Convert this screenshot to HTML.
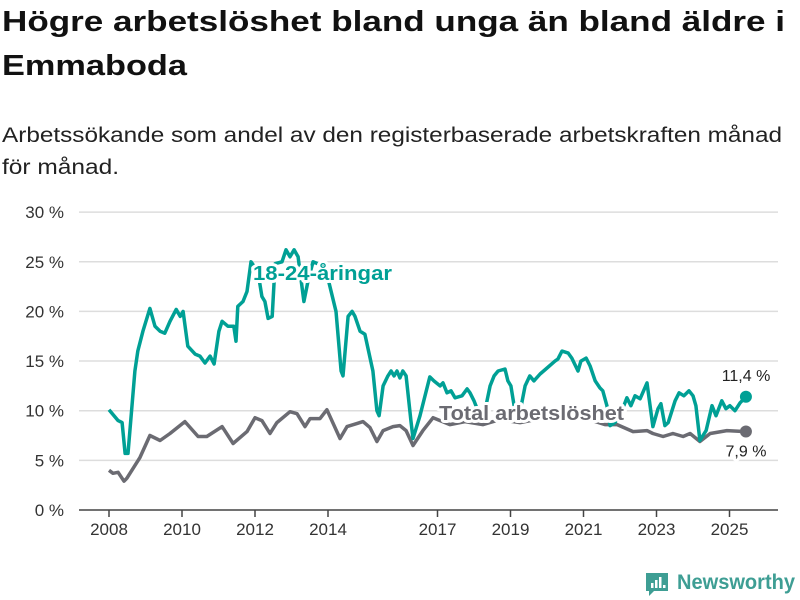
<!DOCTYPE html>
<html><head><meta charset="utf-8"><style>
html,body{margin:0;padding:0;background:#fff;}
svg{display:block;font-family:"Liberation Sans",sans-serif;}
.halo{paint-order:stroke;stroke:#fff;stroke-width:6px;stroke-linejoin:round;}
</style></head><body>
<svg id="chart" width="800" height="600" viewBox="0 0 800 600">
<text x="2" y="31" font-size="29" font-weight="bold" fill="#111" textLength="783" lengthAdjust="spacingAndGlyphs">Högre arbetslöshet bland unga än bland äldre i</text>
<text x="2" y="75" font-size="29" font-weight="bold" fill="#111" textLength="185" lengthAdjust="spacingAndGlyphs">Emmaboda</text>
<text x="2" y="142" font-size="21" fill="#222" textLength="780" lengthAdjust="spacingAndGlyphs">Arbetssökande som andel av den registerbaserade arbetskraften månad</text>
<text x="2" y="174" font-size="21" fill="#222" textLength="117" lengthAdjust="spacingAndGlyphs">för månad.</text>
<g id="grid"></g>
<g id="xaxis"></g>
<g id="series"></g>
<g id="labels"></g>
<g>
<path d="M646 573 h22 v18 h-14 l-5 5 v-5 h-3 z" fill="#3e9e94"/>
<rect x="651" y="583" width="2.5" height="5" fill="#fff"/>
<rect x="655" y="580" width="2.5" height="8" fill="#fff"/>
<rect x="659" y="577" width="2.5" height="11" fill="#fff"/>
<rect x="663" y="585" width="2.5" height="3" fill="#fff"/>
<text x="677" y="589" font-size="21" font-weight="bold" fill="#3e9e94" textLength="118" lengthAdjust="spacingAndGlyphs">Newsworthy</text>
</g>
</svg>
<script>
const yTicks = [0,5,10,15,20,25,30];
const yTickLabels = ["0 %","5 %","10 %","15 %","20 %","25 %","30 %"];
const xTicks = [2008,2010,2012,2014,2017,2019,2021,2023,2025];
const youthDates = [2008.00,2008.25,2008.36,2008.44,2008.52,2008.71,2008.79,2008.93,2009.12,2009.26,2009.40,2009.53,2009.67,2009.84,2009.95,2010.03,2010.16,2010.36,2010.49,2010.63,2010.77,2010.88,2011.01,2011.10,2011.26,2011.42,2011.48,2011.53,2011.67,2011.78,2011.89,2012.08,2012.19,2012.27,2012.36,2012.47,2012.55,2012.74,2012.85,2012.96,2013.07,2013.18,2013.34,2013.45,2013.59,2013.92,2014.22,2014.36,2014.41,2014.55,2014.66,2014.74,2014.88,2015.01,2015.23,2015.34,2015.40,2015.51,2015.64,2015.73,2015.81,2015.89,2015.97,2016.05,2016.14,2016.27,2016.33,2016.52,2016.79,2016.90,2017.07,2017.15,2017.26,2017.37,2017.48,2017.67,2017.81,2017.89,2018.00,2018.16,2018.33,2018.44,2018.55,2018.66,2018.85,2018.93,2019.01,2019.12,2019.21,2019.32,2019.40,2019.53,2019.64,2019.81,2019.97,2020.22,2020.30,2020.41,2020.58,2020.68,2020.85,2020.93,2021.07,2021.18,2021.32,2021.45,2021.53,2021.64,2021.73,2021.86,2022.00,2022.19,2022.30,2022.41,2022.55,2022.74,2022.90,2023.04,2023.12,2023.23,2023.32,2023.51,2023.62,2023.75,2023.89,2024.00,2024.08,2024.19,2024.36,2024.52,2024.63,2024.79,2024.90,2025.01,2025.15,2025.29,2025.45];
const youthValues = [10.1,9.0,8.8,5.7,5.7,14,16,18,20.3,18.5,18,17.8,19,20.2,19.5,20,16.5,15.7,15.5,14.8,15.5,14.7,18,19,18.5,18.5,17,20.5,21,22,25,24,21.5,21,19.3,19.5,24.8,25,26.2,25.5,26.2,25.5,21,23,25,24.5,20,14,13.5,19.5,20,19.5,18,17.7,14,10,9.5,12.5,13.5,14,13.5,14,13.3,14,13.5,9,7.2,9.5,13.4,13,12.5,12.8,11.8,12,11.3,11.5,12.2,11.8,11,9.5,10.5,12.5,13.5,14,14.2,13,12.5,10,9,11,12.5,13.5,13,13.7,14.2,15,15.2,16,15.8,15.3,14,15,15.3,14.5,13,12.3,12,10.5,8.5,8.8,9.5,11.3,10.5,11.5,11.2,12.8,8.4,10.2,10.7,8.5,8.8,11,11.8,11.5,12,11.5,10.5,7,8,10.5,9.5,11,10.2,10.5,10,10.8,11.4];
const totalDates = [2008.00,2008.11,2008.25,2008.41,2008.49,2008.85,2009.12,2009.40,2009.67,2010.08,2010.44,2010.68,2011.10,2011.40,2011.78,2012.00,2012.19,2012.41,2012.60,2012.96,2013.15,2013.37,2013.51,2013.78,2013.97,2014.33,2014.52,2014.79,2014.96,2015.15,2015.34,2015.51,2015.78,2015.97,2016.14,2016.33,2016.60,2016.88,2017.34,2017.75,2018.25,2018.71,2019.26,2019.81,2020.36,2020.90,2021.59,2021.92,2022.36,2022.74,2022.90,2023.18,2023.45,2023.73,2023.92,2024.19,2024.47,2024.93,2025.45];
const totalValues = [4.0,3.7,3.8,2.9,3.2,5.3,7.5,7.0,7.7,8.9,7.4,7.4,8.4,6.7,7.9,9.3,9.0,7.7,8.8,9.9,9.7,8.4,9.2,9.2,10.1,7.2,8.4,8.7,8.9,8.3,6.9,8.0,8.4,8.5,8.0,6.5,8.0,9.3,8.6,8.9,8.6,9.1,8.8,9.2,9.6,9.4,8.6,8.6,7.9,8.0,7.7,7.4,7.7,7.4,7.7,6.9,7.7,8.0,7.9];

const NS='http://www.w3.org/2000/svg';
const X = d => 109 + (d - 2008) * 36.5;
const Y = v => 510 - v * 9.93;
function mk(tag, attrs, parent){const e=document.createElementNS(NS,tag);for(const k in attrs)e.setAttribute(k,attrs[k]);parent.appendChild(e);return e;}
const grid=document.getElementById('grid'), xa=document.getElementById('xaxis'), ser=document.getElementById('series'), lab=document.getElementById('labels');
yTicks.forEach((t,i)=>{
  if(t>0){const l=mk('line',{x1:79,x2:778,y1:Y(t),y2:Y(t),stroke:'#dddddd','stroke-width':1.5},grid);
  
  }
  const tx=mk('text',{x:64,y:Y(t)+6,'font-size':17,fill:'#333','text-anchor':'end'},grid);
  tx.textContent=yTickLabels[i];
  
  
});
const base=mk('line',{x1:79,x2:778,y1:510,y2:510,stroke:'#444','stroke-width':1.5},xa);


xTicks.forEach(t=>{
  const tk=mk('line',{x1:X(t),x2:X(t),y1:510,y2:517,stroke:'#444','stroke-width':1.5},xa);
  
  
  const tx=mk('text',{x:X(t),y:535,'font-size':17,fill:'#333','text-anchor':'middle'},xa);
  tx.textContent=t;
  
  
});
function line(dates,vals,color,name){
  const d=dates.map((x,i)=>(i?'L':'M')+X(x).toFixed(1)+' '+Y(vals[i]).toFixed(1)).join(' ');
  const p=mk('path',{d:d,fill:'none',stroke:color,'stroke-width':3.5,'stroke-linejoin':'round'},ser);
  
  
  const n=dates.length-1;
  const c=mk('circle',{cx:X(dates[n]),cy:Y(vals[n]),r:6,fill:color},ser);
  
  
}
line(totalDates,totalValues,'#6b6b72','total');
line(youthDates,youthValues,'#00a095','youth');
function label(x,y,txt,color,size,bold,anchor,name,len){
  const a={x:x,y:y,'font-size':size,fill:color,'font-weight':bold?'bold':'normal','text-anchor':anchor,class:'halo'};
  if(len){a.textLength=len;a.lengthAdjust='spacingAndGlyphs';}
  const t=mk('text',a,lab);
  t.textContent=txt;
  
  
}
label(253,280,'18-24-åringar','#00a095',20,true,'start','youth-series-label',139);
label(439,420,'Total arbetslöshet','#6b6b72',20,true,'start','total-series-label',185);
const yn=youthValues.length-1, tn=totalValues.length-1;
label(746,Y(youthValues[yn])-16,'11,4 %','#222',16,false,'middle','youth-last-value');
label(746,Y(totalValues[tn])+25,'7,9 %','#222',16,false,'middle','total-last-value');
</script>
</body></html>
